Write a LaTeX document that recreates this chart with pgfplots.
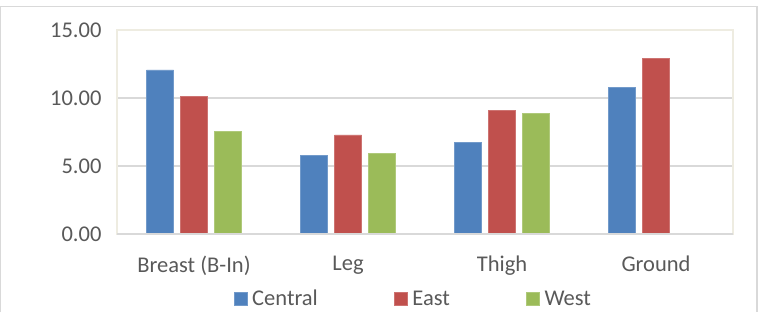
\documentclass[border=0pt]{standalone}
\usepackage{fontspec}
\setmainfont{Carlito}
\usepackage{pgfplots}
\pgfplotsset{compat=1.18}
\definecolor{cblue}{HTML}{4F81BD}
\definecolor{cred}{HTML}{C0504D}
\definecolor{cgreen}{HTML}{9BBB59}
\definecolor{txt}{HTML}{595959}
\definecolor{gridc}{HTML}{D9D9D9}
\definecolor{beige}{HTML}{EEECE1}
\begin{document}
\begin{tikzpicture}[x=1bp,y=1bp]
\useasboundingbox (0,0) rectangle (760,312);
\draw[gridc, line width=1.5bp] (0.75,0) -- (0.75,305.5) -- (757,305.5) -- (757,0);
\begin{axis}[
  at={(117bp,78bp)}, anchor=south west,
  scale only axis, width=616bp, height=204bp,
  ymin=0, ymax=15, ytick={0,5,10,15},
  xmin=-0.5, xmax=3.5, xtick={0,1,2,3},
  xticklabels={Breast (B-In),Leg,Thigh,Ground},
  ybar=7bp, bar width=27bp,
  ymajorgrids, grid style={gridc, line width=1.5bp},
  axis line style={beige, line width=1.5bp},
  tick style={draw=none},
  /pgf/number format/assume math mode=true,
  font=\fontsize{22.5bp}{26bp}\selectfont,
  ticklabel style={text=txt},
  yticklabel={\pgfmathprintnumber[fixed,fixed zerofill,precision=2]{\tick}},
  yticklabel style={xshift=-12bp},
  xticklabel style={yshift=-14bp},
  legend columns=3,
  legend style={draw=none, fill=none, at={(0.481,-0.318)}, anchor=center,
    font=\fontsize{22.5bp}{26bp}\selectfont, text=txt,
    nodes={inner ysep=0bp},
    /tikz/every odd column/.append style={column sep=3bp},
    /tikz/every even column/.append style={column sep=74bp}},
  legend image code/.code={\fill[#1] (0bp,-6.5bp) rectangle (13bp,6.5bp);},
  legend cell align=left,
]
\addplot[fill=cblue, draw=cblue!80!white, line width=0.6bp] coordinates {(0,12.06) (1,5.78) (2,6.76) (3,10.78)};
\addplot[fill=cred, draw=cred!80!white, line width=0.6bp] coordinates {(0,10.12) (1,7.28) (2,9.09) (3,12.92)};
\addplot[fill=cgreen, draw=cgreen!80!white, line width=0.6bp] coordinates {(0,7.55) (1,5.90) (2,8.85)};
\legend{Central,East,West}
\draw[gridc, line width=1.5bp] (axis cs:-0.5,0) -- (axis cs:3.5,0);
\end{axis}
\end{tikzpicture}
\end{document}
